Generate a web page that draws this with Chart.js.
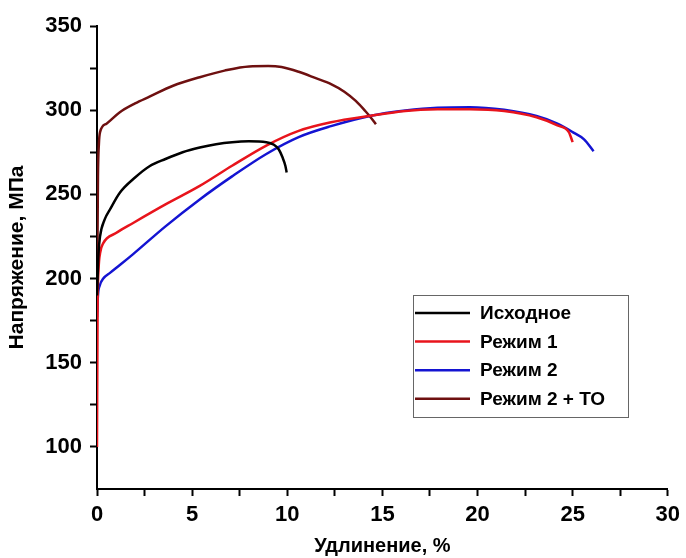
<!DOCTYPE html>
<html>
<head>
<meta charset="utf-8">
<script src="https://cdn.jsdelivr.net/npm/chart.js@4/dist/chart.umd.min.js"></script>
<style>
  body { margin: 0; background: #fff; }
  #wrap { width: 686px; height: 558px; }
</style>
</head>
<body>
<div id="wrap"><canvas id="grafica" width="686" height="558"></canvas></div>
<script>
// ==============================
// DATOS
// ==============================
const etiquetas = ["Исходное", "Режим 1", "Режим 2", "Режим 2 + ТО"];
const colores = ["#000000", "#e8141c", "#1414d2", "#6e1010"];

const ishodX = [0, 0.08, 0.16, 0.4, 0.68, 1.2, 2, 2.76, 3.6, 4.5, 5.4, 6.26, 7.1, 7.98, 8.9, 9.3, 9.55, 9.75, 9.9, 9.97];
const ishodY = [190, 215, 225, 235, 241, 251, 260, 266.7, 271, 275, 277.8, 279.8, 281, 281.5, 281, 279.5, 276.8, 272, 267, 263];

const rezhim1X = [0, 0.03, 0.08, 0.16, 0.33, 1, 1.9, 3.6, 5.4, 7.1, 8.9, 10.6, 12.3, 14.4, 16.2, 17.9, 19.6, 21.4, 23.1, 24.2, 24.8, 25.0];
const rezhim1Y = [100, 180, 205, 215, 221, 227, 233, 244, 255, 267, 279, 287.7, 292.8, 296.7, 299.5, 300.5, 300.6, 299.5, 295.8, 291, 287, 281];

const rezhim2X = [0, 0.05, 0.15, 0.33, 0.7, 1.2, 1.9, 3.6, 5.4, 7.1, 8.9, 10.6, 12.3, 14.4, 16.2, 17.9, 19.6, 21.4, 23.1, 24.2, 25.0, 25.6, 26.1];
const rezhim2Y = [177, 190, 196, 200, 203.5, 208, 214.5, 231, 247, 260.7, 274, 284, 290.5, 296.7, 299.8, 301.5, 301.8, 300.2, 296.5, 292, 287, 282.7, 275.6];

const rezhimToX = [0, 0.05, 0.1, 0.16, 0.5, 1.2, 2, 2.76, 4, 5.4, 6.7, 8.0, 9.0, 9.7, 10.6, 11.5, 12.3, 13.0, 13.6, 14.1, 14.4, 14.66];
const rezhimToY = [180, 260, 280, 287, 292, 298.8, 304, 308, 314.5, 319.6, 323.5, 326, 326.2, 325.6, 322.8, 319, 315.5, 311, 305.5, 299.5, 295.5, 291.7];

const ticksX = [0, 5, 10, 15, 20, 25, 30];
const ticksY = [100, 150, 200, 250, 300, 350];

// ==============================
// ARMAR PUNTOS
// ==============================
function puntos(xs, ys) {
  return xs.map((x, i) => ({ x: x, y: ys[i] }));
}

const series = [
  puntos(ishodX, ishodY),
  puntos(rezhim1X, rezhim1Y),
  puntos(rezhim2X, rezhim2Y),
  puntos(rezhimToX, rezhimToY)
];

// ==============================
// LEYENDA EN RECUADRO
// ==============================
const leyendaCaja = {
  id: "leyendaCaja",
  afterDraw(chart) {
    const c = chart.ctx;
    c.save();
    c.strokeStyle = "#666";
    c.lineWidth = 1;
    c.strokeRect(413.5, 295.5, 215, 122);
    c.font = "bold 19px 'Liberation Sans', Arial, sans-serif";
    c.textBaseline = "middle";
    c.textAlign = "left";
    chart.data.datasets.forEach((ds, i) => {
      const y = 313 + i * 28.6;
      c.strokeStyle = ds.borderColor;
      c.lineWidth = 2.5;
      c.beginPath();
      c.moveTo(415, y);
      c.lineTo(470, y);
      c.stroke();
      c.fillStyle = "#000";
      c.fillText(ds.label, 480, y + 1);
    });
    c.restore();
  }
};

// ==============================
// GRAFICA
// ==============================
const familia = "'Liberation Sans', Arial, sans-serif";
const fuenteTicks = { family: familia, size: 22, weight: "bold" };

new Chart(document.getElementById("grafica"), {
  type: "line",
  data: {
    datasets: etiquetas.map((et, i) => ({
      label: et,
      data: series[i],
      borderColor: colores[i],
      borderWidth: 2.5,
      pointRadius: 0,
      fill: false,
      cubicInterpolationMode: "monotone"
    }))
  },
  options: {
    responsive: false,
    animation: false,
    layout: { padding: { top: 26, right: 14, bottom: 0, left: 0 } },
    plugins: {
      legend: { display: false },
      tooltip: { enabled: false }
    },
    scales: {
      x: {
        type: "linear",
        min: 0,
        max: 30,
        border: { color: "#000", width: 2 },
        grid: { drawOnChartArea: false, drawTicks: true, tickLength: 7, tickColor: "#000", tickWidth: 2 },
        ticks: {
          stepSize: 2.5,
          autoSkip: false,
          maxRotation: 0,
          padding: 6,
          color: "#000",
          font: fuenteTicks,
          callback: v => ticksX.includes(v) ? v : ""
        },
        title: {
          display: true,
          text: "Удлинение, %",
          color: "#000",
          font: { family: familia, size: 20, weight: "bold" },
          padding: { top: 0, bottom: 0 }
        },
        afterFit: s => { s.height = 69; }
      },
      y: {
        min: 75,
        max: 350,
        border: { color: "#000", width: 2 },
        grid: {
          drawOnChartArea: false,
          drawTicks: true,
          tickLength: 7,
          tickWidth: 2,
          tickColor: ctx => (ctx.tick && ctx.tick.value === 75) ? "rgba(0,0,0,0)" : "#000"
        },
        ticks: {
          stepSize: 25,
          autoSkip: false,
          padding: 8,
          color: "#000",
          font: fuenteTicks,
          callback: v => ticksY.includes(v) ? v : ""
        },
        title: {
          display: true,
          text: "Напряжение, МПа",
          color: "#000",
          font: { family: familia, size: 21, weight: "bold" },
          padding: { top: 5, bottom: 0 }
        },
        afterFit: s => { s.width = 97; }
      }
    }
  },
  plugins: [leyendaCaja]
});
</script>
</body>
</html>
